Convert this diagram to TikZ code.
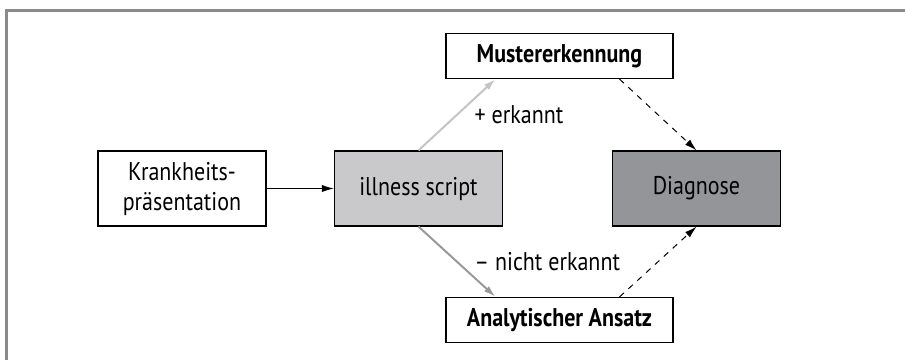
\documentclass[tikz,border=0pt]{standalone}
\usepackage{fontspec}
\setmainfont[FakeStretch=0.86]{PT Sans}
\usetikzlibrary{arrows.meta}
\definecolor{framegray}{HTML}{8A8A8A}
\definecolor{scriptgray}{HTML}{C9C9CB}
\definecolor{diaggray}{HTML}{949598}
\definecolor{lightarrow}{HTML}{C4C4C4}
\definecolor{midarrow}{HTML}{999999}
\begin{document}
\begin{tikzpicture}[x=0.5pt,y=-0.5pt,font=\fontsize{12.8}{15}\selectfont]

    \tikzset{bigbox/.style={draw,line width=0.6pt,minimum width=84pt,minimum height=37.5pt,align=center,inner sep=0pt},
             smallbox/.style={draw,line width=0.6pt,minimum width=113.5pt,minimum height=22.5pt,font=\fontsize{12.8}{15}\selectfont\bfseries,inner sep=0pt}}
    \useasboundingbox (0,0) rectangle (905,360);
    \draw[framegray,line width=1.5pt] (6,360) -- (6,10) -- (905,10);

    \node[bigbox] (kp) at (182,188.5) {Krankheits-\\präsentation};
    \node[bigbox,fill=scriptgray] (is) at (418.5,188.5) {illness script};
    \node[bigbox,fill=diaggray] (dg) at (696.5,188.5) {Diagnose};
    \node[smallbox] (me) at (559.5,56) {Mustererkennung};
    \node[smallbox] (aa) at (559.5,320) {Analytischer Ansatz};

    \begin{scope}[every path/.style={-{Latex[length=6pt,width=3.6pt]},line width=0.5pt}]
        \draw (kp) -- (is);
        \draw[lightarrow,line width=1pt] (is.north) -- ([xshift=-32pt]me.south)node[midway,right,black,xshift=5pt]{+ erkannt};
        \draw[midarrow,line width=1pt] (is.south) -- ([xshift=-32pt]aa.north)node[midway,right,black,xshift=5pt]{-- nicht erkannt};
        \draw[dashed] ([xshift=30pt]me.south) -- (dg.north);
        \draw[dashed] ([xshift=30pt]aa.north) -- (dg.south);
    \end{scope}
\end{tikzpicture}
\end{document}
